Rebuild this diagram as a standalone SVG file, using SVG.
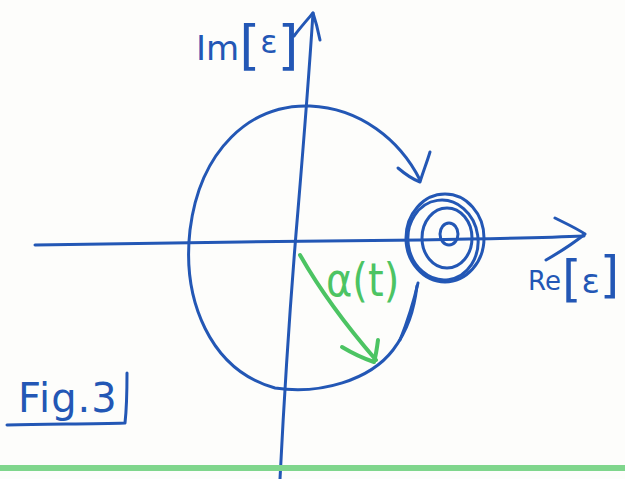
<svg xmlns="http://www.w3.org/2000/svg" width="625" height="479" viewBox="0 0 625 479">
<style>
.b{fill:none;stroke:#2357b5;stroke-width:3;stroke-linecap:round;stroke-linejoin:round}
.g{fill:none;stroke:#4cc463;stroke-width:4;stroke-linecap:round;stroke-linejoin:round}
.tb{fill:#2357b5;font-family:"DejaVu Sans","Liberation Sans",sans-serif}
.tg{fill:#4cc463;font-family:"DejaVu Sans","Liberation Sans",sans-serif}
</style>
<rect width="625" height="479" fill="#fdfdfb"/>
<g id="axes">
<path class="b" d="M280,479 C285,380 292,280 298,210 C303,150 308,90 313,13"/>
<path class="b" d="M294,36 C300,28 307,20 313,13 C316,22 318,30 320,40"/>
<path class="b" d="M35,245 C150,243 300,241 420,240 C480,239 540,238 584,236"/>
<path class="b" d="M555,218 C565,223 576,228 585,234 C575,242 560,252 546,260"/>
</g>
<g id="orbit">
<path class="b" d="M420,180 C400,140 360,108 310,106 C250,104 200,150 190,230 C182,300 210,370 275,388 C320,395 370,380 393,350 C408,330 414,310 417,286"/>
<path class="b" d="M398,168 C405,174 412,179 420,182 C423,172 427,162 430,152"/>
<path class="b" d="M418,283 C414,300 408,320 400,340"/>
</g>
<g id="singularity">
<ellipse class="b" cx="445" cy="238" rx="39" ry="44"/>
<ellipse class="b" cx="443" cy="240" rx="35" ry="40" transform="rotate(-8 443 240)"/>
<ellipse class="b" cx="447" cy="238" rx="25" ry="30"/>
<ellipse class="b" cx="449" cy="234" rx="9" ry="11"/>
</g>
<g id="angle">
<path class="g" d="M300,255 C320,290 350,330 376,360"/>
<path class="g" d="M342,347 C352,353 362,358 374,362 C376,355 377,348 378,340"/>
<text class="tg" x="326" y="296" font-size="40" transform="translate(326 296) scale(1 1.15) translate(-326 -296)">α(t)</text>
</g>
<g id="labels">
<text class="tb" x="196" y="60"><tspan font-size="34">Im</tspan><tspan font-size="54" dy="4">[</tspan><tspan font-size="32" dy="-11">ε</tspan><tspan font-size="54" dy="11">]</tspan></text>
<text class="tb" x="528" y="290"><tspan font-size="26">Re</tspan><tspan font-size="50" dx="1" dy="6">[</tspan><tspan font-size="34" dy="-3">ε</tspan><tspan font-size="50" dy="-1">]</tspan></text>
</g>
<g id="fig">
<text class="tb" x="18" y="412" font-size="40" letter-spacing="1">Fig.3</text>
<path class="b" d="M7,425 C50,424 90,424 125,423 C127,405 127,390 127,373"/>
</g>
<rect x="0" y="465" width="625" height="6" fill="#7fd68c"/>
</svg>
